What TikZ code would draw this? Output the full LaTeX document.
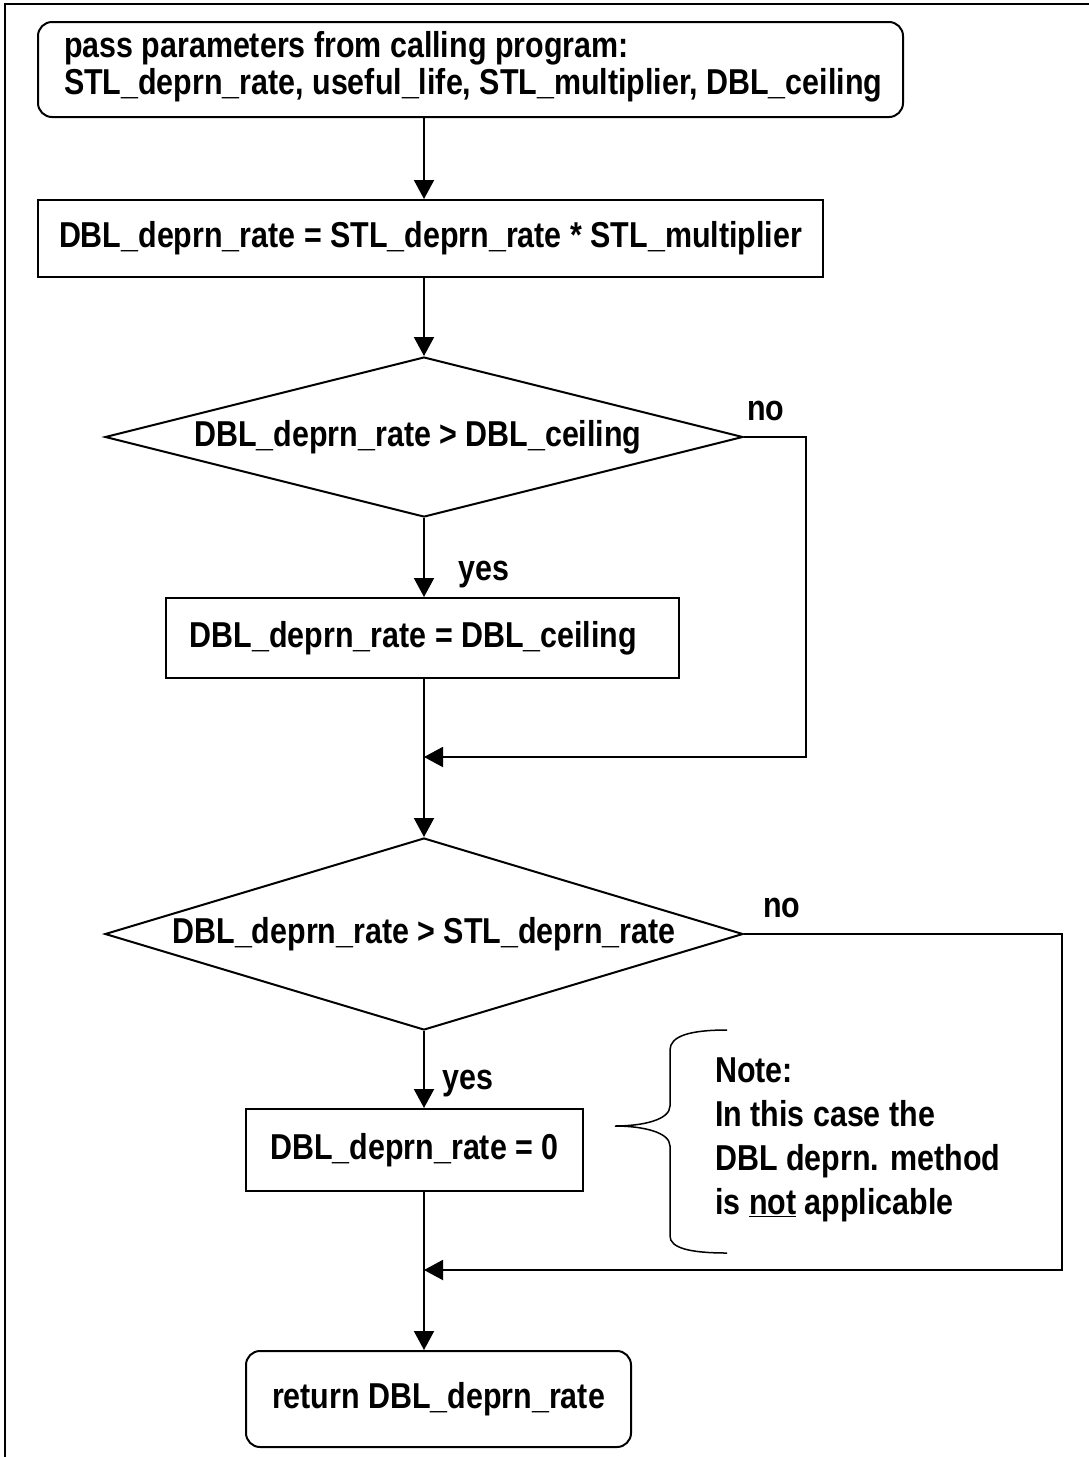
\documentclass[tikz,border=0pt]{standalone}
\usepackage{fontspec}
\setmainfont{Liberation Sans}[FakeStretch=0.845]
\usetikzlibrary{shapes.geometric,arrows.meta}

\tikzset{
  flow/.style={line width=2pt},
  arr/.style={flow,-{Triangle[width=20pt,length=19pt]}},
  txt/.style={font=\fontsize{36}{37}\selectfont\bfseries},
  procbox/.style={draw,flow,rectangle,txt,inner sep=0pt},
  termbox/.style={procbox,rounded corners=14pt},
  decision/.style={draw,flow,diamond,txt,inner sep=0pt},
  lbl/.style={txt,inner sep=0pt,anchor=base west},
}

\begin{document}
\begin{tikzpicture}[x=1pt,y=-1pt]
\useasboundingbox (0,0) rectangle (1089,1457);

% page frame: top and left rules
\draw[flow] (5,1457) -- (5,4) -- (1089,4);

% main column and loop-back points
\coordinate (spine) at (424,0);
\coordinate (join1) at (424,757);
\coordinate (join2) at (424,1270);
\coordinate (out1) at (806,437);
\coordinate (out2) at (1062,934);

% steps
\node[termbox, minimum width=865pt, minimum height=95pt, text width=813pt,
      inner xsep=26pt, align=flush left, text depth=51pt] (start) at (470.5,69.5)
  {pass parameters from calling program:\\\mbox{STL\_deprn\_rate, useful\_life, STL\_multiplier, DBL\_ceiling}};
\node[procbox, minimum width=785pt, minimum height=77pt] (calc) at (430.5,238.5)
  {DBL\_deprn\_rate = STL\_deprn\_rate * STL\_multiplier};
\node[decision, minimum width=638pt, minimum height=160pt, aspect=4] (ceil) at (424,437)
  {DBL\_deprn\_rate > DBL\_ceiling\hspace*{12pt}};
\node[procbox, minimum width=513pt, minimum height=80pt] (cap) at (422.5,638)
  {DBL\_deprn\_rate = DBL\_ceiling\hspace*{18pt}};
\node[decision, minimum width=638pt, minimum height=192pt, aspect=3.3] (cmp) at (424,934)
  {DBL\_deprn\_rate > STL\_deprn\_rate};
\node[procbox, minimum width=337pt, minimum height=82pt] (zero) at (414.5,1150)
  {DBL\_deprn\_rate = 0};
\node[termbox, minimum width=385pt, minimum height=96pt] (ret) at (438.5,1399)
  {return DBL\_deprn\_rate};

% branch labels
\node[lbl] (no1) at (747,420) {no};
\node[lbl] (yes1) at (458,580) {yes};
\node[lbl] (no2) at (763,917) {no};
\node[lbl] (yes2) at (442,1089) {yes};

% connectors
\draw[arr] (start.south -| spine) -- (calc.north -| spine);
\draw[arr] (calc.south -| spine) -- (ceil.north);
\draw[arr] (ceil.south) -- (cap.north -| spine);
\draw[arr] (cap.south -| spine) -- (cmp.north);
\draw[arr] (cmp.south) -- (zero.north -| spine);
\draw[arr] (zero.south -| spine) -- (ret.north -| spine);
\draw[arr] (ceil.east) -- (out1) |- (join1);
\draw[arr] (cmp.east) -- (out2) |- (join2);

% remark with curly brace
\draw[line width=1.5pt]
  (727,1030) .. controls (690,1030) and (670,1036) .. (670,1050)
  -- (670,1106) .. controls (670,1120) and (642,1126) .. (615,1126)
  .. controls (642,1126) and (670,1132) .. (670,1146)
  -- (670,1236) .. controls (670,1248) and (690,1253) .. (727,1253);
\node[txt, font=\fontsize{36}{44}\selectfont\bfseries, align=left, anchor=west,
      inner sep=0pt] (note) at (715,1140)
  {Note:\\In this case the\\DBL deprn. method\\is \underline{not} applicable};
\end{tikzpicture}
\end{document}
